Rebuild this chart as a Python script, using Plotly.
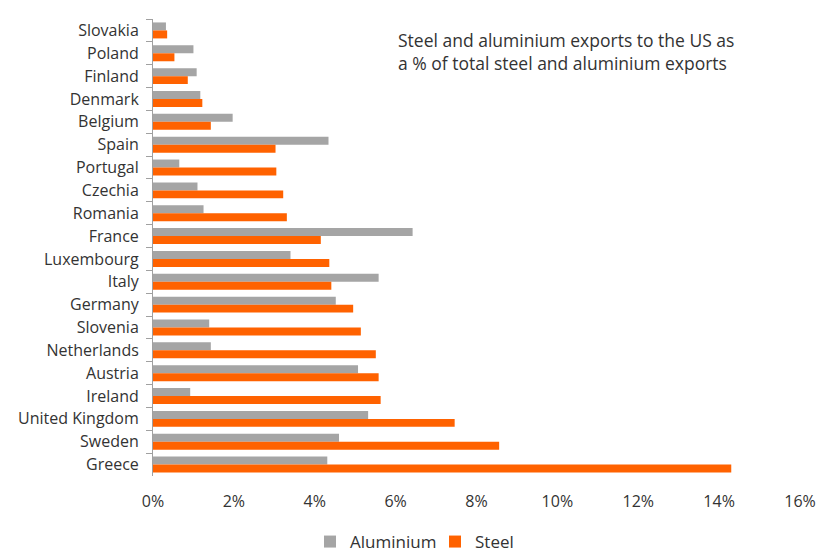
import plotly.graph_objects as go

countries = ["Slovakia", "Poland", "Finland", "Denmark", "Belgium", "Spain", "Portugal",
             "Czechia", "Romania", "France", "Luxembourg", "Italy", "Germany", "Slovenia",
             "Netherlands", "Austria", "Ireland", "United Kingdom", "Sweden", "Greece"]
aluminium = [0.32, 1.00, 1.08, 1.17, 1.97, 4.34, 0.65, 1.10, 1.25, 6.42, 3.40, 5.58, 4.52,
             1.39, 1.43, 5.07, 0.92, 5.32, 4.60, 4.31]
steel = [0.35, 0.53, 0.86, 1.22, 1.43, 3.03, 3.05, 3.22, 3.31, 4.15, 4.36, 4.41, 4.95,
         5.14, 5.51, 5.58, 5.63, 7.46, 8.56, 14.30]
x_ticks = [0, 2, 4, 6, 8, 10, 12, 14, 16]
x_tick_labels = [f"{v}%" for v in x_ticks]

FONT = "Open Sans"
TXT = "#333333"

fig = go.Figure()
fig.add_trace(go.Bar(y=countries, x=aluminium, orientation="h", name="Aluminium",
                     marker=dict(color="#A5A5A5", line=dict(width=0))))
fig.add_trace(go.Bar(y=countries, x=steel, orientation="h", name="Steel",
                     marker=dict(color="#FF6200", line=dict(width=0))))

L, R, T, B = 153, 24, 19, 78
pw = 824 - L - R
ph = 554 - T - B

fig.update_layout(
    width=824, height=554,
    margin=dict(l=L, r=R, t=T, b=B, autoexpand=False),
    paper_bgcolor="white", plot_bgcolor="white",
    barmode="group", bargap=0.3, bargroupgap=0,
    font=dict(family=FONT, size=15, color=TXT),
    legend=dict(orientation="h", xref="container", x=310 / 824, xanchor="left",
                yref="container", y=(554 - 524) / 554, yanchor="top",
                font=dict(size=17, color=TXT), itemwidth=30, traceorder="normal",
                entrywidthmode="pixels", entrywidth=80, tracegroupgap=0),
    annotations=[dict(text="Steel and aluminium exports to the US as<br>a % of total steel and aluminium exports",
                      x=(396 - L) / pw, y=1 - (26 - T) / ph, xref="paper", yref="paper",
                      showarrow=False, xanchor="left", yanchor="top", align="left",
                      font=dict(size=17.5, color=TXT))],
)

fig.update_yaxes(autorange="reversed", showline=True, linecolor="#A0A0A0", linewidth=1,
                 ticks="outside", ticklen=6, tickcolor="#A0A0A0", tickson="boundaries",
                 showgrid=False, ticklabelstandoff=10, automargin=False,
                 tickfont=dict(size=16, color=TXT))
fig.update_xaxes(range=[0, 16], tickvals=x_ticks, ticktext=x_tick_labels, showgrid=False,
                 zeroline=False, showline=False, ticks="", ticklabelstandoff=14,
                 automargin=False, tickfont=dict(size=16, color=TXT))

fig.write_html("out.html")
